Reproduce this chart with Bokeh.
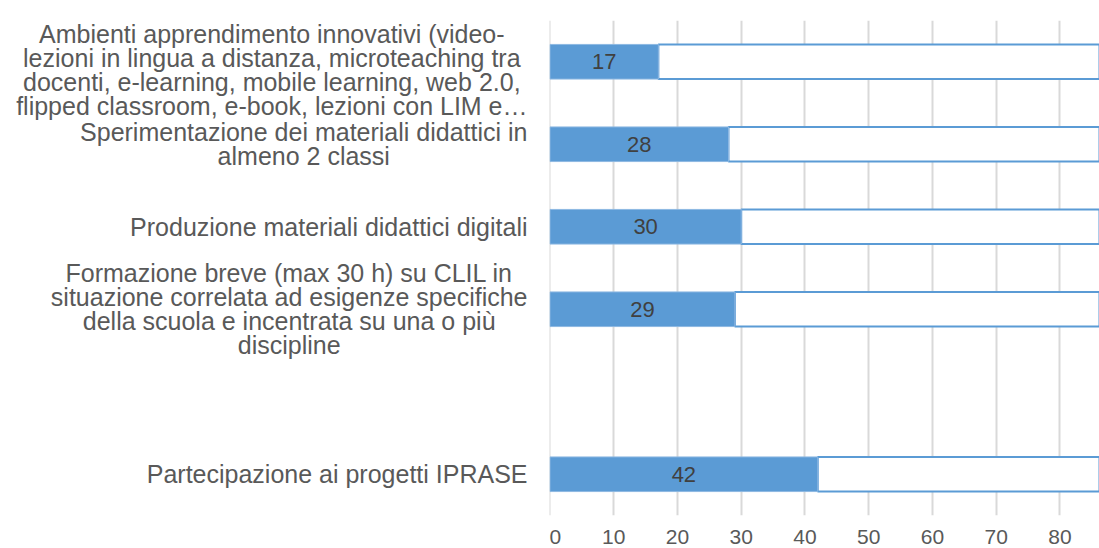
from bokeh.plotting import figure
from bokeh.layouts import row
from bokeh.models import ColumnDataSource, Range1d, FactorRange, FixedTicker
from bokeh.core.properties import value
from bokeh.embed import file_html
from bokeh.resources import INLINE

# ---- data ----
chiavi = ["c1", "c2", "c3", "c4", "vuoto", "c5"]          # top to bottom slots
categorie = [
    "Ambienti apprendimento innovativi (video-\nlezioni in lingua a distanza, microteaching tra\ndocenti, e-learning, mobile learning, web 2.0,\nflipped classroom, e-book, lezioni con LIM e…",
    "Sperimentazione dei materiali didattici in\nalmeno 2 classi",
    "Produzione materiali didattici digitali",
    "Formazione breve (max 30 h) su CLIL in\nsituazione correlata ad esigenze specifiche\ndella scuola e incentrata su una o più\ndiscipline",
    "",
    "Partecipazione ai progetti IPRASE",
]
bar_keys = ["c1", "c2", "c3", "c4", "c5"]
valori = [17, 28, 30, 29, 42]
totale = [100, 100, 100, 100, 100]
tick_vals = [0, 10, 20, 30, 40, 50, 60, 70, 80]

FONT = "Liberation Sans"
factors = list(reversed(chiavi))
slot_px = 495 / len(chiavi)

# ---- label panel ----
lab = figure(width=549, height=548, frame_width=549, frame_height=535, title=None,
             x_range=Range1d(0, 549),
             y_range=FactorRange(factors=factors, range_padding=20 / slot_px,
                                 range_padding_units="absolute"),
             toolbar_location=None, output_backend="svg",
             min_border_left=0, min_border_right=0, min_border_top=0, min_border_bottom=13)
lab.axis.visible = False
lab.grid.visible = False
lab.outline_line_color = None
# first (4-line) label keeps a smaller shift so its top line stays fully visible
offsets = [-12] + [-20] * (len(chiavi) - 1)
lsrc = ColumnDataSource(dict(y=chiavi, t=categorie, x=[527] * len(chiavi), off=offsets))
lab.text(x="x", y="y", text="t", source=lsrc, text_align="center", anchor="center_right",
         text_baseline="middle", y_offset="off", text_font=value(FONT), text_font_size="25px",
         text_color="#595959", text_line_height=0.86)

# ---- bar panel ----
p = figure(width=550, height=548, frame_width=550, frame_height=495, title=None,
           x_range=Range1d(-0.078, 86.2), y_range=FactorRange(factors=factors),
           toolbar_location=None, output_backend="svg",
           min_border_left=0, min_border_right=0, min_border_top=20, min_border_bottom=33)
p.outline_line_color = None
p.yaxis.visible = False
p.ygrid.grid_line_color = None
p.xgrid.grid_line_color = "#d9d9d9"
p.xgrid.grid_line_width = 2
p.xaxis.ticker = FixedTicker(ticks=tick_vals)
p.xaxis.axis_line_color = None
p.xaxis.major_tick_line_color = None
p.xaxis.minor_tick_line_color = None
p.xaxis.major_label_standoff = 8
p.xaxis.major_label_text_font = FONT
p.xaxis.major_label_text_font_size = "21px"
p.xaxis.major_label_text_color = "#595959"

src = ColumnDataSource(dict(y=bar_keys, v=valori, tot=totale,
                            mid=[v / 2 for v in valori], lbl=[str(v) for v in valori]))
p.hbar(y="y", left="v", right="tot", height=0.42, source=src,
       fill_color="white", line_color="#5B9BD5", line_width=2)
p.hbar(y="y", left=0, right="v", height=0.42, source=src,
       fill_color="#5B9BD5", line_color="#8DB8E2", line_width=1)
p.text(x="mid", y="y", text="lbl", source=src, text_align="center", text_baseline="middle",
       text_font=value(FONT), text_font_size="22px", text_color="#404040")

layout = row(lab, p, spacing=0)
open("out.html", "w").write(file_html(layout, INLINE))
